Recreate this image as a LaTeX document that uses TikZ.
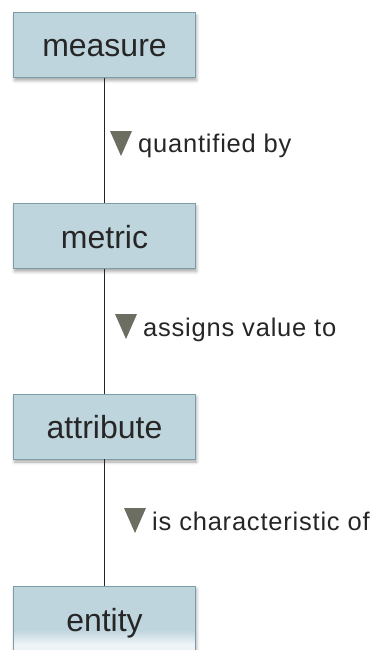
\documentclass[tikz,border=0pt]{standalone}
\usepackage{fontspec}
\setmainfont{Liberation Sans}
\newfontfamily\rolefont[LetterSpace=3.1]{Liberation Sans}
\usetikzlibrary{shadows.blur,calc}

\definecolor{boxfill}{HTML}{BFD5DE}
\definecolor{boxedge}{HTML}{7D9CA8}
\definecolor{ink}{HTML}{262626}
\definecolor{marker}{HTML}{6B6E60}
\definecolor{fadefill}{HTML}{EEF4F6}

\tikzset{
  classbox/.style={
    rectangle, draw=boxedge, line width=0.9pt, fill=boxfill,
    minimum width=182pt, minimum height=65pt, inner sep=0pt,
    text=ink, font=\fontsize{32}{36}\selectfont,
    text height=24pt, text depth=0pt,
    blur shadow={shadow xshift=1pt, shadow yshift=-3pt,
                 shadow blur radius=3pt, shadow opacity=35}
  },
  % box whose fill pales towards its lower edge, built from thin bands
  fadebox/.style={classbox,
    path picture={
      \foreach \k in {0,...,21}{
        \pgfmathtruncatemacro\pct{max(0,100-7*\k)}
        \fill[boxfill!\pct!fadefill]
          ([yshift={(22-\k)*1pt}]path picture bounding box.south west)
          rectangle
          ([yshift={(20.7-\k)*1pt}]path picture bounding box.south east);
      }
    }},
  relation/.style={draw=ink!95!black, line width=1.3pt},
  rolelabel/.style={anchor=base west, inner sep=0pt, text=ink,
                    font=\rolefont\fontsize{25.5}{30}\selectfont},
  pointer/.style={fill=marker}
}

\begin{document}
\begin{tikzpicture}[x=1pt, y=-1pt]
  \useasboundingbox (0,0) rectangle (372,650);

  % the four concepts, stacked top to bottom
  \node[classbox] (measure)   at (104.5, 45)    {measure};
  \node[classbox] (metric)    at (104.5, 236)   {metric};
  \node[classbox] (attribute) at (104.5, 426.5) {attribute};
  \node[fadebox, minimum height=66pt] (entity) at (104.5, 619) {entity};

  % links between them
  \draw[relation] (measure) -- (metric);
  \draw[relation] (metric) -- (attribute);
  \draw[relation] (attribute) -- (entity);

  % role names, each with a reading-direction marker
  \node[rolelabel] (r1) at (138, 153) {quantified by};
  \node[rolelabel] (r2) at (143, 336) {assigns value to};
  \node[rolelabel] (r3) at (152, 530) {is characteristic of};

  \foreach \r in {r1,r2,r3} {
    \fill[pointer] ($(\r.base west)+(-28,-22)$) -- ++(22,0) -- ++(-11,25) -- cycle;
  }
\end{tikzpicture}
\end{document}
